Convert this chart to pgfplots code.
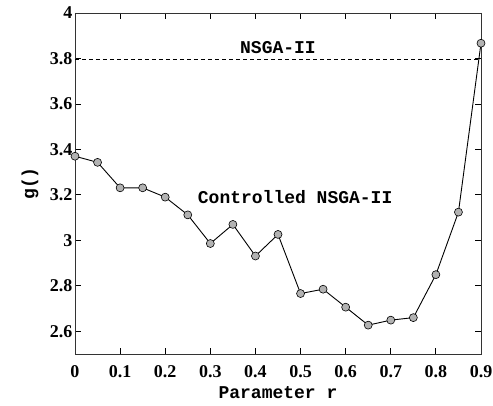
\documentclass[border=0pt]{standalone}
\usepackage{fontspec}
\setmainfont{Liberation Serif}
\newfontfamily\monob{Liberation Mono}
\usepackage{pgfplots}
\pgfplotsset{compat=1.18}
\begin{document}
\begin{tikzpicture}
\begin{axis}[
  scale only axis,
  width=406pt, height=341pt,
  xmin=0, xmax=0.9, ymin=2.5, ymax=4,
  xtick={0,0.1,...,0.9},
  ytick={2.6,2.8,3,3.2,3.4,3.6,3.8,4},
  xticklabels={0,0.1,0.2,0.3,0.4,0.5,0.6,0.7,0.8,0.9},
  yticklabels={2.6,2.8,3,3.2,3.4,3.6,3.8,4},
  tick align=inside,
  major tick length=6pt,
  tick style={black, line width=0.8pt},
  axis line style={line width=0.9pt, black!80},
  ticklabel style={font=\fontsize{18}{20}\selectfont\bfseries},
  /pgf/number format/assume math mode=true,
  xticklabel style={yshift=-8pt},
  yticklabel style={xshift=1pt},
  xlabel={\monob\bfseries Parameter r},
  ylabel={\monob\bfseries g()},
  label style={font=\fontsize{18}{20}\selectfont},
  xlabel style={at={(axis description cs:0.5,0)}, anchor=center, yshift=-39pt},
  ylabel style={at={(axis description cs:0,0.5)}, anchor=center, yshift=45pt},
  clip=false,
]
\addplot[black, line width=0.6pt, dash pattern=on 4pt off 3pt] coordinates {(0,3.797) (0.9,3.797)};
\addplot[black, line width=0.9pt, mark=*, mark size=4pt,
  mark options={fill=black!30, draw=black, line width=0.6pt}] coordinates {
(0,3.370) (0.05,3.343) (0.1,3.231) (0.15,3.231) (0.2,3.19) (0.25,3.112)
(0.3,2.986) (0.35,3.070) (0.4,2.931) (0.45,3.026) (0.5,2.766) (0.55,2.785)
(0.6,2.706) (0.65,2.627) (0.7,2.649) (0.75,2.660) (0.8,2.849) (0.85,3.124)
(0.9,3.867)};
\node[font=\fontsize{18}{20}\selectfont\monob\bfseries] at (axis cs:0.45,3.846) {NSGA-II};
\node[font=\fontsize{18}{20}\selectfont\monob\bfseries] at (axis cs:0.488,3.19) {Controlled NSGA-II};
\end{axis}
\pgfresetboundingbox
\path (current axis.south west) ++(-75pt,-51pt) rectangle ++(493pt,405pt);
\end{tikzpicture}
\end{document}
